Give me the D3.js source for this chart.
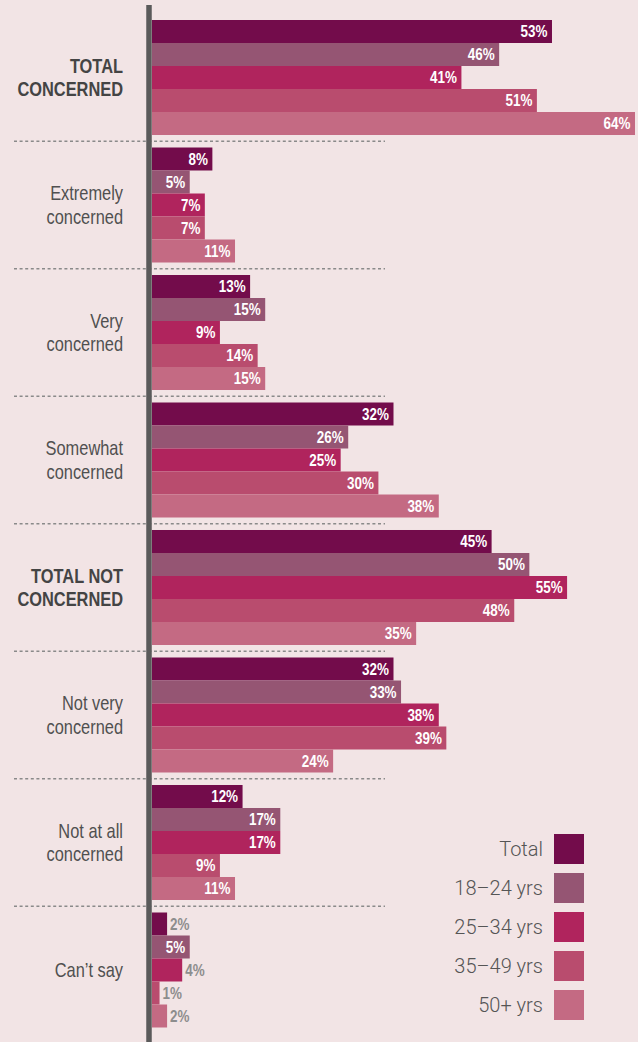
<!DOCTYPE html>
<html>
<head>
<meta charset="utf-8">
<script src="https://cdn.jsdelivr.net/npm/d3@7"></script>
<style>
  html, body { margin: 0; padding: 0; background: #f2e4e5; }
  svg { display: block; }
</style>
</head>
<body>
<svg id="chart" width="638" height="1042"></svg>
<script>
// Levels of concern, by age group (% of respondents)
const categories = [
  "TOTAL CONCERNED", "Extremely concerned", "Very concerned", "Somewhat concerned",
  "TOTAL NOT CONCERNED", "Not very concerned", "Not at all concerned", "Can’t say"
];
const categoryLines = [
  ["TOTAL", "CONCERNED"], ["Extremely", "concerned"], ["Very", "concerned"], ["Somewhat", "concerned"],
  ["TOTAL NOT", "CONCERNED"], ["Not very", "concerned"], ["Not at all", "concerned"], ["Can’t say"]
];
const boldCategories = ["TOTAL CONCERNED", "TOTAL NOT CONCERNED"];
const seriesNames = ["Total", "18–24 yrs", "25–34 yrs", "35–49 yrs", "50+ yrs"];
const seriesColors = ["#730c4b", "#955573", "#b0245d", "#b94c6e", "#c46a83"];

const total   = [53, 8, 13, 32, 45, 32, 12, 2];
const age1824 = [46, 5, 15, 26, 50, 33, 17, 5];
const age2534 = [41, 7,  9, 25, 55, 38, 17, 4];
const age3549 = [51, 7, 14, 30, 48, 39,  9, 1];
const age50   = [64, 11, 15, 38, 35, 24, 11, 2];
const seriesValues = [total, age1824, age2534, age3549, age50];

const svg = d3.select("#chart");
const W = 638, H = 1042;
// condensed look: a regular sans squeezed horizontally
const sans = "'Liberation Sans', Arial, Helvetica, sans-serif";
const squeeze = 0.8;
const valueSqueeze = 0.84;

const x = d3.scaleLinear().domain([0, 64]).range([152, 635]);
const y0 = d3.scaleBand().domain(categories).range([20, 1027.5]).paddingInner(0.098).paddingOuter(0);
const y1 = d3.scaleBand().domain(seriesNames).range([0, y0.bandwidth()]).padding(0);
const color = d3.scaleOrdinal().domain(seriesNames).range(seriesColors);

// dashed separators between groups
const gapHalf = (y0.step() - y0.bandwidth()) / 2;
svg.append("g").selectAll("line")
  .data(categories.slice(1))
  .join("line")
  .attr("x1", 14).attr("x2", 385)
  .attr("y1", d => y0(d) - gapHalf).attr("y2", d => y0(d) - gapHalf)
  .attr("stroke", "#8a8a8a").attr("stroke-width", 1.3)
  .attr("stroke-dasharray", "3,2.6");

// bars
const groups = svg.append("g").selectAll("g")
  .data(categories.map((c, i) => ({ cat: c, vals: seriesNames.map((s, j) => ({ s, v: seriesValues[j][i] })) })))
  .join("g")
  .attr("transform", d => `translate(0,${y0(d.cat)})`);

groups.selectAll("rect")
  .data(d => d.vals)
  .join("rect")
  .attr("x", x(0))
  .attr("y", d => y1(d.s))
  .attr("width", d => x(d.v) - x(0))
  .attr("height", y1.bandwidth())
  .attr("fill", d => color(d.s));

// value labels: inside the bar end, or just outside for very short bars
groups.selectAll("text.val")
  .data(d => d.vals)
  .join("text")
  .attr("class", "val")
  .attr("transform", d => {
    const tx = d.v >= 5 ? x(d.v) - 4.5 : x(d.v) + 3;
    const ty = y1(d.s) + y1.bandwidth() / 2;
    return `translate(${tx},${ty}) scale(${valueSqueeze},1)`;
  })
  .attr("dy", "0.36em")
  .attr("text-anchor", d => d.v >= 5 ? "end" : "start")
  .attr("font-family", sans)
  .attr("font-weight", "bold")
  .attr("font-size", 16)
  .attr("fill", d => d.v >= 5 ? "#ffffff" : "#8d8d8d")
  .text(d => d.v + "%");

// category labels
const lineH = 23.5;
svg.append("g").selectAll("text")
  .data(categories)
  .join("text")
  .attr("text-anchor", "end")
  .attr("font-family", sans)
  .attr("font-size", 20.5)
  .attr("font-weight", d => boldCategories.includes(d) ? "bold" : "normal")
  .attr("fill", d => boldCategories.includes(d) ? "#444444" : "#505050")
  .each(function(d, i) {
    const lines = categoryLines[i];
    const cy = y0(d) + y0.bandwidth() / 2;
    const startY = cy - (lines.length - 1) * lineH / 2;
    d3.select(this)
      .attr("transform", `translate(123,${startY}) scale(${squeeze},1)`)
      .selectAll("tspan")
      .data(lines)
      .join("tspan")
      .attr("x", 0)
      .attr("y", (l, k) => k * lineH)
      .attr("dy", "0.35em")
      .text(l => l);
  });

// vertical axis line
svg.append("line")
  .attr("x1", 149).attr("x2", 149)
  .attr("y1", 5).attr("y2", H)
  .attr("stroke", "#5a5a5a").attr("stroke-width", 5.5);

// legend
const legend = svg.append("g").selectAll("g")
  .data(seriesNames)
  .join("g")
  .attr("transform", (d, i) => `translate(554,${834 + i * 39})`);
legend.append("rect")
  .attr("width", 30).attr("height", 30)
  .attr("fill", d => color(d));
legend.append("text")
  .attr("x", -11).attr("y", 15).attr("dy", "0.36em")
  .attr("text-anchor", "end")
  .attr("font-family", "Roboto, 'Liberation Sans', sans-serif")
  .attr("font-weight", 300)
  .attr("font-size", 20)
  .attr("fill", "#555555")
  .text(d => d);
</script>
</body>
</html>
